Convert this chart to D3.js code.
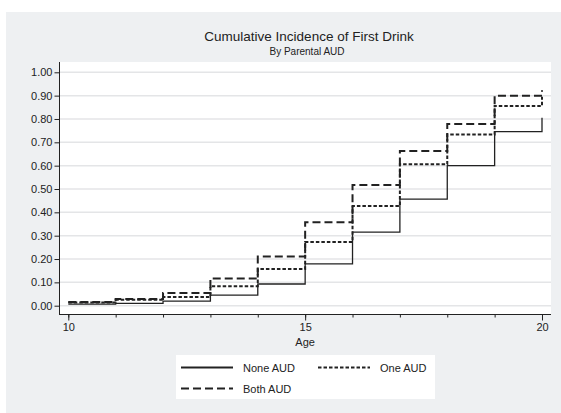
<!DOCTYPE html>
<html>
<head>
<meta charset="utf-8">
<script src="https://cdn.jsdelivr.net/npm/d3@7"></script>
<style>
  body { margin: 0; background: #fff; }
  text { font-family: "Liberation Sans", Arial, Helvetica, sans-serif; fill: #222; }
</style>
</head>
<body>
<div id="chart"></div>
<script>
var ages = [10, 11, 12, 13, 14, 15, 16, 17, 18, 19, 20];
var noneAUD = [0.007, 0.010, 0.020, 0.045, 0.093, 0.179, 0.315, 0.457, 0.600, 0.746, 0.805];
var oneAUD = [0.014, 0.025, 0.037, 0.083, 0.157, 0.273, 0.427, 0.606, 0.734, 0.856, 0.895];
var bothAUD = [0.016, 0.029, 0.054, 0.117, 0.211, 0.358, 0.517, 0.663, 0.779, 0.900, 0.923];
var yTicks = [0, 0.1, 0.2, 0.3, 0.4, 0.5, 0.6, 0.7, 0.8, 0.9, 1.0];
var xMajor = [10, 15, 20];

var width = 561, height = 413;
var margin = {top: 62, right: 10, bottom: 99, left: 60};

var svg = d3.select("#chart").append("svg")
    .attr("width", width)
    .attr("height", height);

// outer gray panel
svg.append("rect")
    .attr("x", 6).attr("y", 12)
    .attr("width", width - 6).attr("height", height - 12)
    .attr("fill", "#eef0f2");

// plot area
svg.append("rect")
    .attr("x", margin.left).attr("y", margin.top)
    .attr("width", width - margin.left - margin.right)
    .attr("height", height - margin.top - margin.bottom)
    .attr("fill", "#fff");

var x = d3.scaleLinear().domain([10, 20]).range([68.3, 542]);
var y = d3.scaleLinear().domain([0, 1]).range([305.7, 72.3]);

// gridlines
svg.append("g").selectAll("line")
    .data(yTicks)
    .enter().append("line")
    .attr("x1", margin.left).attr("x2", width - margin.right)
    .attr("y1", function(d) { return y(d); })
    .attr("y2", function(d) { return y(d); })
    .attr("stroke", "#e4e5e7")
    .attr("stroke-width", 1.5);

// y axis
var yAxis = svg.append("g")
    .attr("transform", "translate(" + (margin.left - 0.5) + ",0)")
    .call(d3.axisLeft(y).tickValues(yTicks).tickFormat(d3.format(".2f")).tickSize(5).tickPadding(2));
yAxis.select(".domain").attr("d", "M0," + margin.top + "V" + (height - margin.bottom + 0.5));

// x axis, minor ticks every year
var xAxisY = height - margin.bottom + 0.5;
var xMinor = svg.append("g")
    .attr("transform", "translate(0," + xAxisY + ")")
    .call(d3.axisBottom(x).tickValues(ages).tickFormat("").tickSize(3));
xMinor.select(".domain").attr("d", "M" + (margin.left - 1) + ",0H" + (width - margin.right));

svg.append("g")
    .attr("transform", "translate(0," + xAxisY + ")")
    .call(d3.axisBottom(x).tickValues(xMajor).tickFormat(d3.format("d")).tickSize(6).tickPadding(3))
    .select(".domain").remove();

svg.selectAll(".tick text").attr("font-size", 11).attr("font-family", "Liberation Sans, Arial, sans-serif").attr("fill", "#222");
svg.selectAll(".domain, .tick line").attr("stroke", "#222");

svg.append("text")
    .attr("x", x(15)).attr("y", 345.5)
    .attr("text-anchor", "middle")
    .attr("font-size", 11)
    .text("Age");

// titles
svg.append("text")
    .attr("x", 309).attr("y", 41)
    .attr("text-anchor", "middle")
    .attr("font-size", 13.5)
    .text("Cumulative Incidence of First Drink");
svg.append("text")
    .attr("x", 307).attr("y", 55)
    .attr("text-anchor", "middle")
    .attr("font-size", 10)
    .text("By Parental AUD");

var series = [
  {name: "None AUD", values: noneAUD, dash: null, w: 1.3},
  {name: "One AUD", values: oneAUD, dash: "3.5,2", w: 2},
  {name: "Both AUD", values: bothAUD, dash: "8,4", w: 2}
];

var line = d3.line()
    .x(function(d) { return x(d[0]); })
    .y(function(d) { return y(d[1]); })
    .curve(d3.curveStepAfter);

svg.append("g").selectAll("path")
    .data(series.slice().reverse())
    .enter().append("path")
    .attr("d", function(s) { return line(ages.map(function(a, i) { return [a, s.values[i]]; })); })
    .attr("fill", "none")
    .attr("stroke", "#222")
    .attr("stroke-width", function(s) { return s.w; })
    .attr("stroke-dasharray", function(s) { return s.dash; });

// legend
var legend = svg.append("g");
legend.append("rect")
    .attr("x", 176).attr("y", 355)
    .attr("width", 259).attr("height", 44)
    .attr("fill", "#fff");

var legPos = [[181, 367.5], [318, 367.5], [181, 388.5]];
var items = legend.selectAll("g.item")
    .data(series)
    .enter().append("g")
    .attr("class", "item")
    .attr("transform", function(d, i) { return "translate(" + legPos[i][0] + "," + legPos[i][1] + ")"; });
items.append("line")
    .attr("x1", 0).attr("x2", 52)
    .attr("stroke", "#222")
    .attr("stroke-width", 2)
    .attr("stroke-dasharray", function(d) { return d.dash; });
items.append("text")
    .attr("x", 62).attr("y", 4)
    .attr("font-size", 11)
    .text(function(d) { return d.name; });
</script>
</body>
</html>
